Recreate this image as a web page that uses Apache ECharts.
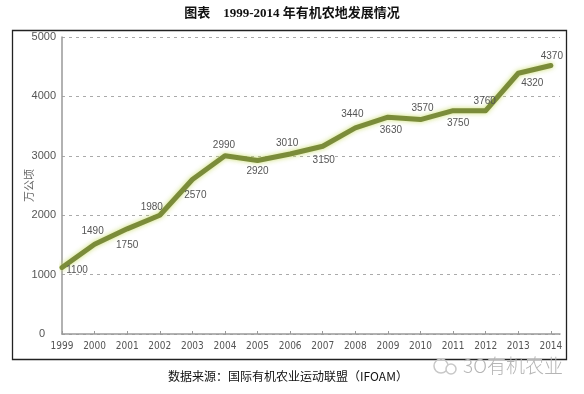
<!DOCTYPE html>
<html><head><meta charset="utf-8">
<script src="https://cdn.jsdelivr.net/npm/echarts@6/dist/echarts.min.js"></script>
<style>html,body{margin:0;padding:0;background:#fff}#c{width:584px;height:394px}</style>
</head><body><div id="c"></div>
<script>
const years = [1999,2000,2001,2002,2003,2004,2005,2006,2007,2008,2009,2010,2011,2012,2013,2014];
const lineValues = [1120,1510,1770,2000,2600,3000,2920,3030,3160,3470,3650,3610,3760,3760,4390,4520];
const printedLabels = ['1100','1490','1750','1980','2570','2990','2920','3010','3150','3440','3630','3570','3750','3760','4320','4370'];
const yTicks = [0,1000,2000,3000,4000,5000];
const titleText = '图表    1999-2014 年有机农地发展情况';
const unitText = '万公顷';
const sourceText = '数据来源：国际有机农业运动联盟（IFOAM）';
const watermarkText = '3O有机农业';

const labelOffsets = [[15,3],[-2,-13],[0,16],[-8,-8],[3,16],[-1,-11],[0,11],[-3,-11],[1,14],[-3,-14],[3,13],[2,-11],[5,13],[-1,-9],[14,10],[1,-9]];

const rich = {};
labelOffsets.forEach((o,i)=>{
  const dx=o[0], dy=o[1];
  rich['s'+i] = {color:'#555',fontSize:10,fontFamily:"'Liberation Sans',sans-serif",
    padding:[dy>0?2*dy:0, dx<0?-2*dx:0, dy<0?-2*dy:0, dx>0?2*dx:0]};
});

const chart = echarts.init(document.getElementById('c'), null, {renderer:'canvas'});
chart.setOption({
  backgroundColor:'#fff',
  animation:false,
  title:{text:titleText,left:'center',top:2,
    textStyle:{fontFamily:"'Liberation Serif','Noto Sans CJK SC',serif",fontWeight:'bold',fontSize:13,color:'#111'}},
  grid:{left:62,right:24,top:37,bottom:60},
  xAxis:{type:'value',min:years[0],max:2014.28,interval:1,
    axisLine:{show:true,lineStyle:{color:'#999',width:1.5}},
    axisTick:{show:true,inside:true,length:3,lineStyle:{color:'#999'}},
    axisLabel:{color:'#555',fontSize:10,margin:7,showMaxLabel:false,fontFamily:"'Liberation Sans Narrow','DejaVu Sans Condensed',sans-serif",
      formatter:v=>Number.isInteger(v)?String(v):''},
    splitLine:{show:false}},
  yAxis:{type:'value',min:yTicks[0],max:yTicks[yTicks.length-1],interval:1000,
    name:unitText,nameLocation:'middle',nameGap:28,nameRotate:90,nameMoveOverlap:false,
    nameTextStyle:{color:'#666',fontSize:11,fontFamily:"'Noto Sans CJK SC',sans-serif"},
    axisLine:{show:true,lineStyle:{color:'#999',width:1.5}},
    axisTick:{show:false},
    axisLabel:{color:'#555',fontSize:11,margin:6,fontFamily:"'Liberation Sans',sans-serif",
      formatter:v=>v===0?'{z|0}':String(v),
      rich:{z:{color:'#555',fontSize:11,padding:[0,11,0,0]}}},
    splitLine:{show:true,lineStyle:{color:'#aaa',type:[3,4],width:1}}},
  series:[{
    type:'line',data:years.map((y,i)=>[y, lineValues[i]]),symbol:'circle',symbolSize:1,showSymbol:true,
    itemStyle:{color:'rgba(0,0,0,0)'},
    lineStyle:{color:'#7b8c3a',width:5,join:'round',cap:'round',shadowColor:'rgba(200,220,100,0.9)',shadowBlur:5},
    label:{show:true,position:'inside',align:'center',verticalAlign:'middle',
      formatter:p=>'{s'+p.dataIndex+'|'+printedLabels[p.dataIndex]+'}',rich:rich},
    labelLayout:{hideOverlap:false},
    z:3
  }],
  graphic:[
    {type:'rect',shape:{x:12.5,y:30.5,width:554,height:329},style:{fill:'none',stroke:'#222',lineWidth:1.3},z:-1},
    {type:'text',x:288,y:376,style:{text:sourceText,fill:'#111',fontSize:12,align:'center',verticalAlign:'middle',fontFamily:"'Noto Sans CJK SC',sans-serif"}},
    {type:'text',x:463,y:366,style:{text:watermarkText,fill:'#b5b5b5',fontSize:19,align:'left',verticalAlign:'middle',fontFamily:"'Noto Sans CJK SC',sans-serif",fontWeight:300}},
    {type:'circle',shape:{cx:441,cy:366,r:7},style:{fill:'none',stroke:'#c8c8c8',lineWidth:1.5}},
    {type:'circle',shape:{cx:451,cy:369,r:5},style:{fill:'#fff',stroke:'#c8c8c8',lineWidth:1.5}}
  ]
});
</script></body></html>
